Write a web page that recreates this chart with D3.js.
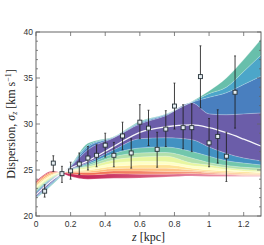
<!DOCTYPE html>
<html>
<head>
<meta charset="utf-8">
<script src="https://cdn.jsdelivr.net/npm/d3@7"></script>
<style>
  body { margin: 0; background: #fff; }
  svg { display: block; }
</style>
</head>
<body>
<script>
// velocity dispersion vs height, model fan + measurements
var W = 264, H = 245;
var margin = {left: 36, right: 3, top: 32, bottom: 29};

// model knots (z in kpc)
var zKnots = [0, 0.1, 0.2, 0.3, 0.45, 0.6, 0.75, 0.9, 1.0, 1.1, 1.2, 1.3];

// band boundaries, bottom (red) to top (teal)
var b0 = [23.8, 24.9, 24.3, 24.0, 24.1, 24.13, 24.24, 24.35, 24.3, 24.3, 24.3, 24.3];
var b1 = [23.65, 24.8, 24.6, 24.45, 24.6, 24.55, 24.55, 24.6, 24.55, 24.5, 24.4, 24.4];
var b2 = [23.5, 24.7, 24.75, 24.7, 24.9, 24.9, 24.85, 24.85, 24.7, 24.6, 24.5, 24.5];
var b3 = [23.35, 24.6, 24.85, 24.85, 25.15, 25.2, 25.2, 25.0, 24.85, 24.75, 24.65, 24.6];
var b4 = [23.2, 24.5, 24.9, 25.0, 25.4, 25.55, 25.57, 25.2, 25.0, 24.9, 24.8, 24.7];
var b5 = [23.05, 24.4, 24.95, 25.15, 25.75, 25.93, 25.9, 25.45, 25.3, 25.05, 24.9, 24.8];
var b6 = [22.9, 24.3, 25.0, 25.35, 26.1, 26.4, 26.5, 25.76, 25.55, 25.25, 25.05, 24.95];
var b7 = [22.75, 24.2, 25.0, 25.5, 26.45, 26.85, 26.9, 26.3, 25.8, 25.5, 25.3, 25.2];
var b8 = [22.6, 24.15, 25.05, 25.65, 26.8, 27.4, 27.5, 27.0, 26.5, 26.0, 25.75, 25.55];
var b9 = [22.45, 24.1, 25.1, 25.8, 27.2, 28.4, 28.5, 28.3, 27.5, 26.8, 26.3, 26.0];
var u0 = [22.1, 23.8, 25.35, 27.2, 28.5, 30.0, 30.9, 32.3, 31.1, 31.0, 31.1, 31.2];
var u1 = [22.0, 23.7, 25.4, 27.5, 28.55, 30.1, 31.0, 32.35, 32.9, 33.4, 34.3, 35.2];
var u2 = [21.95, 23.6, 25.45, 27.7, 28.6, 30.2, 31.05, 32.4, 33.3, 34.0, 35.7, 37.5];
var u3 = [21.9, 23.5, 25.5, 27.9, 28.65, 30.3, 31.1, 32.45, 33.6, 35.0, 37.0, 39.2];
var bestFit = [22.3, 24.0, 25.2, 26.0, 27.57, 29.1, 29.7, 29.9, 29.6, 29.05, 28.35, 27.6];

var bounds = [b0, b1, b2, b3, b4, b5, b6, b7, b8, b9, u0, u1, u2, u3];
var bandColors = ["#c2164b", "#f0603f", "#fdae61", "#fee08b", "#ffffbf", "#e6f598",
                  "#abdda4", "#66c2a5", "#3288bd", "#5e4fa2", "#3a74ba", "#3d9ec4", "#5bbaa4"];
// paler end colours for the outer bands at large z
var fadeColors = ["#f3a3b4", "#f9b596", "#fdcf98"];

// measurements
var zData   = [0.05, 0.1, 0.15, 0.2, 0.25, 0.3, 0.35, 0.4, 0.45, 0.5, 0.55, 0.6,
               0.65, 0.7, 0.75, 0.8, 0.85, 0.9, 0.95, 1.0, 1.05, 1.1, 1.15];
var sigData = [22.7, 25.75, 24.6, 24.9, 25.65, 26.3, 26.6, 27.7, 26.6, 28.7, 26.85, 30.2,
               29.55, 27.25, 29.45, 31.95, 29.6, 29.6, 35.15, 27.95, 28.65, 26.5, 33.45];
var sigLo   = [22.05, 24.85, 23.65, 24.0, 24.5, 25.0, 25.35, 26.4, 25.35, 27.2, 25.2, 28.4,
               27.65, 25.3, 27.55, 29.45, 27.3, 27.0, 31.75, 25.35, 25.75, 23.75, 29.55];
var sigHi   = [23.4, 26.55, 25.4, 25.85, 26.85, 27.55, 27.75, 29.0, 28.0, 30.2, 28.4, 32.1,
               31.5, 29.1, 31.45, 34.45, 32.1, 32.2, 38.5, 30.6, 31.55, 29.1, 37.4];

var xTicks = [0, 0.2, 0.4, 0.6, 0.8, 1, 1.2];
var yTicks = [20, 25, 30, 35, 40];
var yMinor = d3.range(21, 40, 1);

var x = d3.scaleLinear().domain([0, 1.3]).range([margin.left, W - margin.right]);
var y = d3.scaleLinear().domain([20, 40]).range([H - margin.bottom, margin.top]);

var svg = d3.select("body").append("svg").attr("width", W).attr("height", H);
var defs = svg.append("defs");

defs.append("clipPath").attr("id", "plot")
  .append("rect")
  .attr("x", x(0)).attr("y", y(40))
  .attr("width", x(1.3) - x(0)).attr("height", y(20) - y(40));

fadeColors.forEach(function(c, i) {
  var gr = defs.append("linearGradient").attr("id", "fade" + i)
    .attr("gradientUnits", "userSpaceOnUse")
    .attr("x1", x(0.3)).attr("x2", x(1.3)).attr("y1", 0).attr("y2", 0);
  gr.append("stop").attr("offset", 0).attr("stop-color", bandColors[i]);
  gr.append("stop").attr("offset", 1).attr("stop-color", c);
});

var g = svg.append("g").attr("clip-path", "url(#plot)");

// fan of model bands
for (var i = 0; i < bounds.length - 1; i++) {
  var lo = bounds[i], hi = bounds[i + 1];
  var area = d3.area()
    .x(function(d, k) { return x(zKnots[k]); })
    .y0(function(d, k) { return y(lo[k]); })
    .y1(function(d, k) { return y(hi[k]); })
    .curve(d3.curveMonotoneX);
  g.append("path")
    .datum(zKnots)
    .attr("d", area)
    .attr("fill", i < fadeColors.length ? "url(#fade" + i + ")" : bandColors[i])
    .attr("fill-opacity", 0.92);
}

var line = function(arr) {
  return d3.line()
    .x(function(d, k) { return x(zKnots[k]); })
    .y(function(d, k) { return y(arr[k]); })
    .curve(d3.curveMonotoneX)(zKnots);
};

// faint edges between bands
bounds.forEach(function(arr) {
  g.append("path").attr("d", line(arr))
    .attr("fill", "none").attr("stroke", "#fff")
    .attr("stroke-opacity", 0.45).attr("stroke-width", 0.6);
});

g.append("path").attr("d", line(bestFit))
  .attr("fill", "none").attr("stroke", "#fff")
  .attr("stroke-width", 1.3).attr("stroke-opacity", 0.95);

// error bars
zData.forEach(function(z, k) {
  var px = x(z);
  g.append("line")
    .attr("x1", px).attr("x2", px)
    .attr("y1", y(sigLo[k])).attr("y2", y(sigHi[k]))
    .attr("stroke", "#1e1e1e").attr("stroke-width", 1).attr("stroke-opacity", 0.85);
  [sigLo[k], sigHi[k]].forEach(function(v) {
    g.append("line")
      .attr("x1", px - 1).attr("x2", px + 1)
      .attr("y1", y(v)).attr("y2", y(v))
      .attr("stroke", "#1e1e1e").attr("stroke-width", 0.8).attr("stroke-opacity", 0.85);
  });
  g.append("rect")
    .attr("x", px - 2).attr("y", y(sigData[k]) - 2)
    .attr("width", 4).attr("height", 4)
    .attr("fill", "#e4ecf0")
    .attr("stroke", "#263238").attr("stroke-width", 0.9);
});

// frame and ticks
var axisColor = "#666";
svg.append("rect")
  .attr("x", x(0)).attr("y", y(40))
  .attr("width", x(1.3) - x(0)).attr("height", y(20) - y(40))
  .attr("fill", "none").attr("stroke", axisColor).attr("stroke-width", 1);

var ticks = svg.append("g").attr("stroke", axisColor).attr("stroke-width", 0.8);
xTicks.forEach(function(t) {
  ticks.append("line").attr("x1", x(t)).attr("x2", x(t)).attr("y1", y(20)).attr("y2", y(20) - 4);
  ticks.append("line").attr("x1", x(t)).attr("x2", x(t)).attr("y1", y(40)).attr("y2", y(40) + 4);
});
yTicks.forEach(function(t) {
  ticks.append("line").attr("x1", x(0)).attr("x2", x(0) + 4).attr("y1", y(t)).attr("y2", y(t));
  ticks.append("line").attr("x1", x(1.3)).attr("x2", x(1.3) - 4).attr("y1", y(t)).attr("y2", y(t));
});
yMinor.forEach(function(t) {
  if (t % 5 === 0) return;
  ticks.append("line").attr("x1", x(0)).attr("x2", x(0) + 2).attr("y1", y(t)).attr("y2", y(t));
  ticks.append("line").attr("x1", x(1.3)).attr("x2", x(1.3) - 2).attr("y1", y(t)).attr("y2", y(t));
});

// tick labels
var labelFont = "'Liberation Sans', Arial, sans-serif";
svg.selectAll(".xl").data(xTicks).enter().append("text")
  .attr("x", function(d) { return x(d); })
  .attr("y", y(20) + 11)
  .attr("text-anchor", "middle")
  .attr("font-family", labelFont).attr("font-size", 8.5).attr("fill", "#333")
  .text(function(d) { return d; });

svg.selectAll(".yl").data(yTicks).enter().append("text")
  .attr("x", x(0) - 3)
  .attr("y", function(d) { return y(d) + 3; })
  .attr("text-anchor", "end")
  .attr("font-family", labelFont).attr("font-size", 8.5).attr("fill", "#333")
  .text(function(d) { return d; });

// axis titles
var serif = "'Liberation Serif', 'DejaVu Serif', serif";
var xt = svg.append("text")
  .attr("x", (x(0) + x(1.3)) / 2).attr("y", H - 4)
  .attr("text-anchor", "middle")
  .attr("font-family", serif).attr("font-size", 12).attr("fill", "#222");
xt.append("tspan").attr("font-style", "italic").text("z");
xt.append("tspan").text(" [kpc]");

var yt = svg.append("text")
  .attr("transform", "translate(15," + ((y(20) + y(40)) / 2) + ") rotate(-90)")
  .attr("text-anchor", "middle")
  .attr("font-family", serif).attr("font-size", 12).attr("fill", "#222");
yt.append("tspan").text("Dispersion, ");
yt.append("tspan").attr("font-style", "italic").text("σ");
yt.append("tspan").attr("font-style", "italic").attr("font-size", 8).attr("dy", 2).text("z");
yt.append("tspan").attr("dy", -2).text(" [km s");
yt.append("tspan").attr("font-size", 8).attr("dy", -4).text("−1");
yt.append("tspan").attr("dy", 4).text("]");
</script>
</body>
</html>
